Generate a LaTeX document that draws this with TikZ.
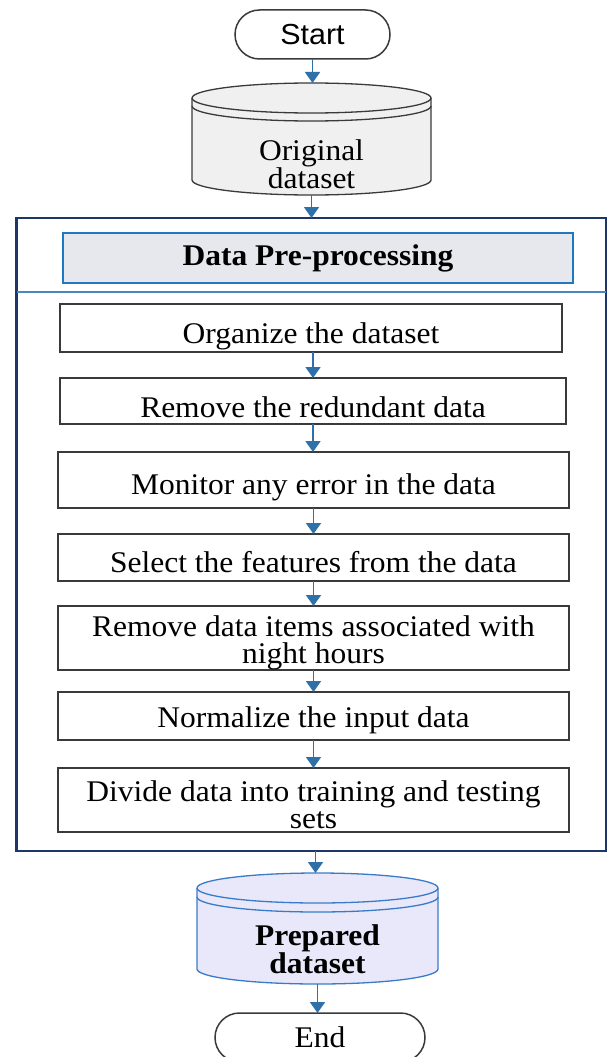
\documentclass[tikz,border=0pt]{standalone}
\usepackage{fontspec}
\setmainfont{Liberation Serif}[FakeStretch=1.05]
\newfontfamily\termsans{Liberation Sans}[FakeStretch=1.05]
\usetikzlibrary{arrows.meta,shapes.misc,backgrounds}

\definecolor{navy}{HTML}{1C3767}
\definecolor{sepblue}{HTML}{4A86C0}
\definecolor{hdrblue}{HTML}{1E78C2}
\definecolor{hdrfill}{HTML}{E7E8ED}
\definecolor{flow}{HTML}{3070A8}
\definecolor{boxedge}{HTML}{3A3A3A}
\definecolor{drumgray}{HTML}{F0F0F0}
\definecolor{prepfill}{HTML}{E8E8FA}
\definecolor{prepedge}{HTML}{3A7BC8}

% database drum drawn around a named (empty) node:
% #1 node, #2 half width, #3 ellipse radius, #4 gap of inner rim, #5 fill, #6 edge
\newcommand\drawdrum[6]{%
  \fill[#5] ([yshift=-#3pt]#1.north west)
     arc[start angle=180,end angle=0,x radius=#2pt,y radius=#3pt]
     -- ([yshift=#3pt]#1.south east)
     arc[start angle=0,end angle=-180,x radius=#2pt,y radius=#3pt] -- cycle;
  \draw[#6,line width=1.3pt] ([yshift=-#3pt]#1.north) ellipse[x radius=#2pt,y radius=#3pt];
  \draw[#6,line width=1.3pt] ([yshift=-#3pt-#4pt]#1.north west)
     arc[start angle=180,end angle=360,x radius=#2pt,y radius=#3pt];
  \draw[#6,line width=1.3pt] ([yshift=-#3pt]#1.north west) -- ([yshift=#3pt]#1.south west)
     arc[start angle=180,end angle=360,x radius=#2pt,y radius=#3pt]
     -- ([yshift=-#3pt]#1.north east);
}

\begin{document}
\begin{tikzpicture}[x=1pt,y=-1pt,
  every node/.style={font=\fontsize{30}{27}\selectfont,inner sep=0pt,outer sep=0pt},
  stepbox/.style={draw=boxedge,line width=1.5pt,fill=white,minimum width=511pt},
  lbl/.style={align=center,text=black},
  terminal/.style={rounded rectangle,draw=boxedge,line width=1.5pt,fill=white,minimum height=49pt},
  drumnode/.style={draw=none,minimum width=#1},
  flowarrow/.style={draw=flow,line width=1.8pt,-{Triangle[width=15pt,length=11pt]}},
  ]
\useasboundingbox (0,0) rectangle (607,1057);

% start / end terminals
\node[terminal,minimum width=155pt] (start) at (312.5,34.5) {\termsans\fontsize{29}{27}\selectfont Start};
\node[terminal,minimum width=210pt] (end) at (320,1037.5) {End};

% data stores
\node[drumnode=239pt,minimum height=112pt] (orig) at (311.5,139) {};
\node[lbl] (origtext) at ([yshift=-25.5pt]orig.center) {Original\\dataset};
\node[drumnode=241pt,minimum height=111pt] (prep) at (317.5,928.5) {};
\node[lbl,font=\fontsize{30}{27.5}\selectfont\bfseries] (preptext) at ([yshift=-20.5pt]prep.center) {Prepared\\dataset};
\begin{scope}[on background layer]
  \drawdrum{orig}{119.5}{15}{8}{drumgray}{boxedge}
  \drawdrum{prep}{120.5}{15}{9}{prepfill}{prepedge}
\end{scope}

% pre-processing stage frame
\node[draw=navy,line width=2.5pt,minimum width=589.5pt,minimum height=633pt] (stage) at (311.25,534.5) {};
\draw[sepblue,line width=2pt] ([yshift=-74pt]stage.north west) -- ([yshift=-74pt]stage.north east);
\node[draw=hdrblue,line width=2.5pt,fill=hdrfill,minimum width=510pt,minimum height=50pt,font=\fontsize{30}{27}\selectfont\bfseries]
  (head) at (318,258) {Data Pre-processing};

% processing steps
\node[stepbox,minimum width=502pt,minimum height=48pt,
  label={[lbl,yshift=-8pt]center:Organize the dataset}] (s1) at (311,328) {};
\node[stepbox,minimum width=506pt,minimum height=46pt,
  label={[lbl,yshift=-6pt]center:Remove the redundant data}] (s2) at (313,401) {};
\node[stepbox,minimum height=56pt,
  label={[lbl,yshift=-7pt]center:Monitor any error in the data}] (s3) at (313.5,480) {};
\node[stepbox,minimum height=47pt,
  label={[lbl,yshift=-4.5pt]center:Select the features from the data}] (s4) at (313.5,557.5) {};
\node[stepbox,minimum height=64pt,
  label={[lbl,yshift=-5pt]center:Remove data items associated with\\night hours}] (s5) at (313.5,638) {};
\node[stepbox,minimum height=48pt,
  label={[lbl,yshift=-4pt]center:Normalize the input data}] (s6) at (313.5,716) {};
\node[stepbox,minimum height=64pt,
  label={[lbl,yshift=-5pt]center:Divide data into training and testing\\sets}] (s7) at (313.5,800) {};

% connectors
\draw[flowarrow] (start.south) -- (start.south |- orig.north);
\draw[flowarrow] (orig.south) -- (orig.south |- stage.north);
\draw[flowarrow] ([xshift=2pt]s1.south) -- ([xshift=2pt]s1.south |- s2.north);
\foreach \a/\b in {s2/s3,s3/s4,s4/s5,s5/s6,s6/s7}
  \draw[flowarrow] (\a.south) -- (\a.south |- \b.north);
\draw[flowarrow] ([xshift=-2pt]prep.north |- stage.south) -- ([xshift=-2pt]prep.north);
\draw[flowarrow] (prep.south) -- (prep.south |- end.north);
\end{tikzpicture}
\end{document}
